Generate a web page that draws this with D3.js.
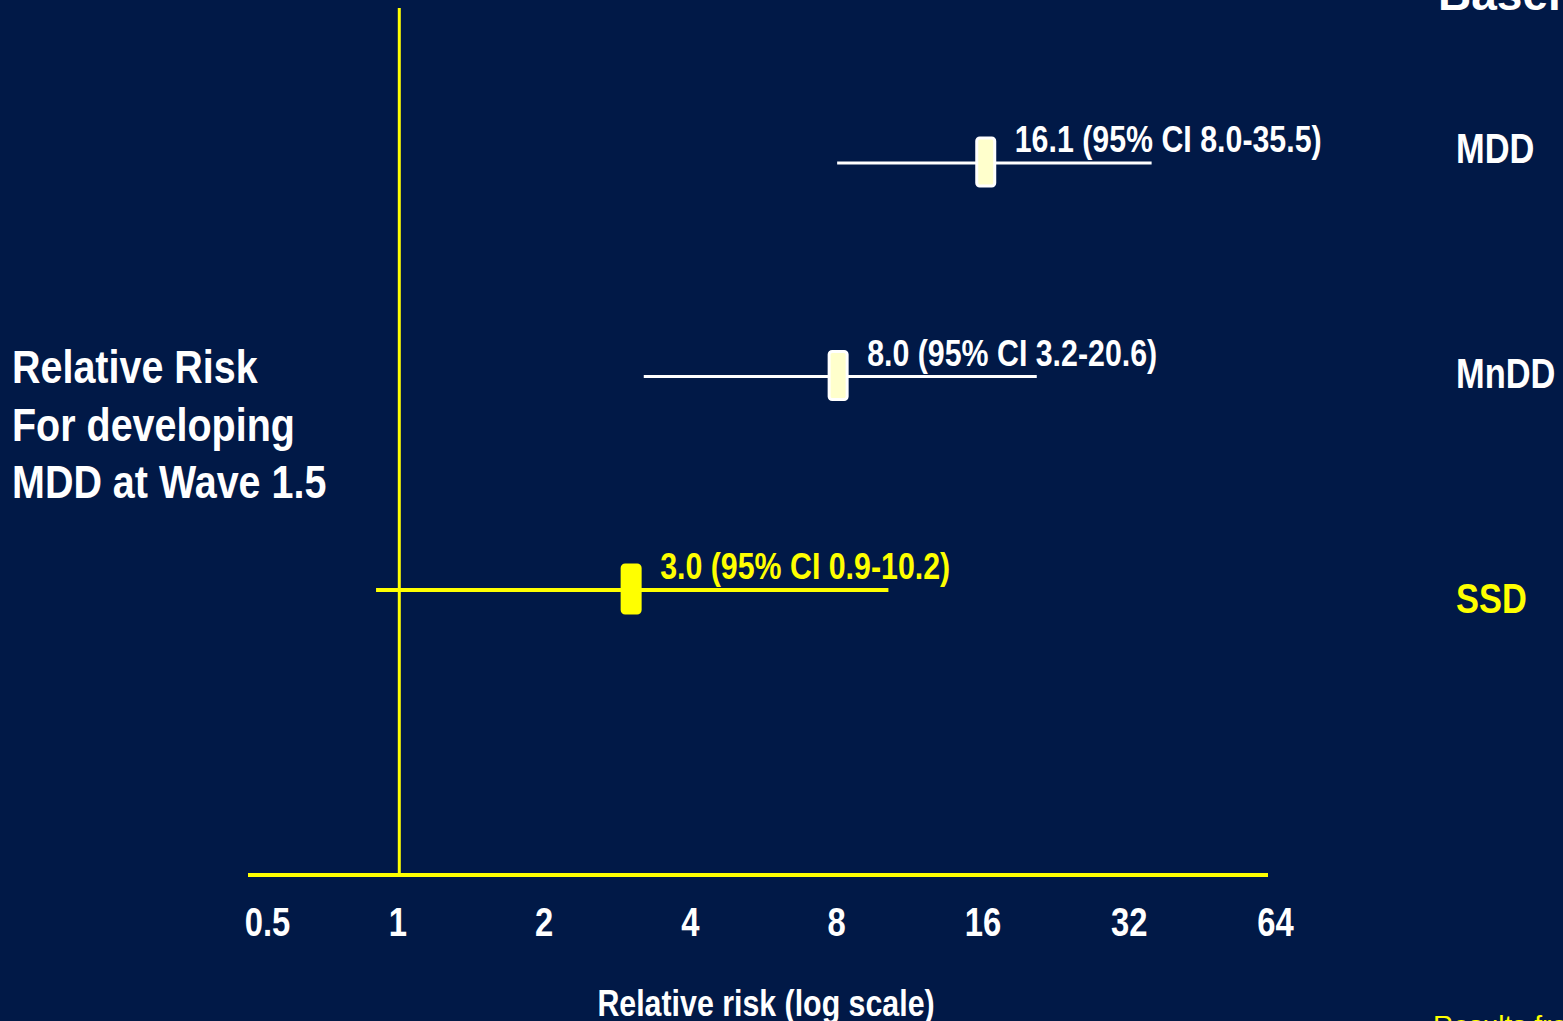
<!DOCTYPE html>
<html><head><meta charset="utf-8">
<script src="https://cdn.jsdelivr.net/npm/d3@7"></script>
<style>
html,body{margin:0;padding:0;background:#011947;overflow:hidden;}
svg{display:block;}
text{font-family:"Liberation Sans",Arial,sans-serif;font-weight:bold;}
</style></head><body>
<script>
// ---- data ----
const categories = ["MDD", "MnDD", "SSD"];
const riskValues = [16.1, 8.0, 3.0];
const ciLow = [8.0, 3.2, 0.9];
const ciHigh = [35.5, 20.6, 10.2];
const riskLabels = ["16.1 (95% CI 8.0-35.5)", "8.0 (95% CI 3.2-20.6)", "3.0 (95% CI 0.9-10.2)"];
const tickValues = [0.5, 1, 2, 4, 8, 16, 32, 64];
const tickLabels = ["0.5", "1", "2", "4", "8", "16", "32", "64"];
const leftTitle = ["Relative Risk", "For developing", "MDD at Wave 1.5"];
const xTitle = "Relative risk (log scale)";

const W = 1563, H = 1021;
const BG = "#011947", YEL = "#FFFF00", WHITE = "#FFFFFF", PALE = "#FFFFCC";
const rowColor = ["white", "white", "yellow"];
const NARROW = 0.82; // emulate Arial Narrow

const svg = d3.select("body").append("svg").attr("width", W).attr("height", H);
svg.append("rect").attr("width", W).attr("height", H).attr("fill", BG);

function ntext(parent, x, y, str, size, fill, anchor, k) {
  return parent.append("text")
    .attr("transform", `translate(${x},${y}) scale(${k || NARROW},1)`)
    .attr("text-anchor", anchor || "start")
    .attr("fill", fill).attr("font-size", size).text(str);
}

const x = d3.scaleLog().base(2).domain([0.5, 64]).range([252, 1276]);
const y = d3.scalePoint().domain(categories).range([163, 590]);
const yLab = d3.scalePoint().domain(categories).range([163, 613]);
const axisY = 875;

// axis line
svg.append("line").attr("x1", x(0.5) - 4).attr("x2", x(64) - 8)
  .attr("y1", axisY).attr("y2", axisY).attr("stroke", YEL).attr("stroke-width", 4);
// reference line at RR = 1
svg.append("line").attr("x1", x(1) + 1).attr("x2", x(1) + 1)
  .attr("y1", 8).attr("y2", axisY).attr("stroke", YEL).attr("stroke-width", 3);

// tick labels via d3 axis
const axis = d3.axisBottom(x).tickValues(tickValues).tickSize(0)
  .tickFormat((d, i) => tickLabels[i]);
const ag = svg.append("g").attr("transform", `translate(0,${axisY})`).call(axis);
ag.select(".domain").remove();
ag.selectAll("text").attr("fill", WHITE).attr("font-size", 40).attr("dy", null).attr("y", null)
  .attr("transform", d => `translate(${d === 0.5 ? 15 : -1},61) scale(${NARROW},1)`)
  .style("font-family", '"Liberation Sans",Arial,sans-serif').style("font-weight", "bold");

// x title
ntext(svg, 766, 1016, xTitle, 37, WHITE, "middle");

// left title
leftTitle.forEach((t, i) => ntext(svg, 12, 383 + i * 57.5, t, 47, WHITE, "start", 0.84));

// rows
const rows = categories.map((c, i) => ({c, v: riskValues[i], lo: ciLow[i], hi: ciHigh[i], lab: riskLabels[i], col: rowColor[i]}));
const g = svg.selectAll("g.row").data(rows).join("g").attr("class", "row");
g.append("line").attr("x1", d => x(d.lo)).attr("x2", d => x(d.hi))
  .attr("y1", d => y(d.c)).attr("y2", d => y(d.c))
  .attr("stroke", d => d.col === "yellow" ? YEL : WHITE)
  .attr("stroke-width", d => d.col === "yellow" ? 4 : 3);
g.append("rect").attr("x", d => x(d.v) - 8).attr("y", d => y(d.c) - 25)
  .attr("width", 18).attr("height", 48).attr("rx", 3)
  .attr("fill", d => d.col === "yellow" ? YEL : PALE)
  .attr("stroke", d => d.col === "yellow" ? YEL : WHITE).attr("stroke-width", 3);
g.each(function (d) {
  ntext(d3.select(this), x(d.v) + 30, y(d.c) - 11, d.lab, 37, d.col === "yellow" ? YEL : WHITE);
});

// right category labels
rows.forEach(d => ntext(svg, 1456, yLab(d.c), d.c, 42, d.col === "yellow" ? YEL : WHITE));

// cut-off header and footnote
svg.append("text").attr("x", 1438).attr("y", 10).attr("fill", WHITE).attr("font-size", 46).text("Baseline");
svg.append("text").attr("x", 1433).attr("y", 1035).attr("fill", YEL).attr("font-size", 28)
  .style("font-weight", "normal").text("Results from");
</script>
</body></html>
